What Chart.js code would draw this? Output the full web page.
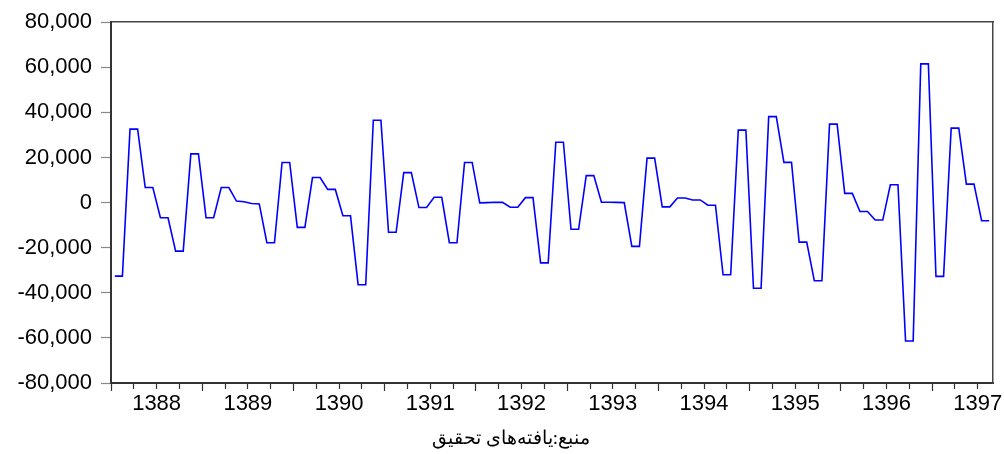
<!DOCTYPE html>
<html>
<head>
<meta charset="utf-8">
<script src="https://cdn.jsdelivr.net/npm/chart.js@4/dist/chart.umd.min.js"></script>
<style>
  html, body { margin: 0; padding: 0; background: #ffffff; }
  #c { display: block; }
</style>
</head>
<body>
<canvas id="c" width="1004" height="454"></canvas>
<script>
// Years shown on the x axis (monthly series, 1388M01 .. 1397M08)
const years = [1388, 1389, 1390, 1391, 1392, 1393, 1394, 1395, 1396, 1397];
const monthsPerYear = 12;

// Monthly values
const values = [
  -32600, -32600, 32600, 32600, 6700, 6700, -6700, -6700, -21500, -21500, 21600, 21600,
  -6700, -6700, 6700, 6700, 700, 400, -400, -600, -17800, -17800, 17800, 17800,
  -11000, -11000, 11100, 11100, 5850, 5850, -5850, -5850, -36400, -36400, 36500, 36500,
  -13150, -13150, 13300, 13300, -2200, -2200, 2340, 2340, -17800, -17800, 17800, 17800,
  -100, 0, 150, 100, -2050, -2050, 2200, 2200, -26750, -26750, 26750, 26750,
  -11840, -11840, 11980, 11980, 150, 150, 100, 0, -19430, -19430, 19730, 19730,
  -1900, -1900, 2050, 2050, 1170, 1170, -1170, -1170, -32000, -32000, 32150, 32150,
  -38000, -38000, 38140, 38140, 17840, 17840, -17540, -17540, -34630, -34630, 34780, 34780,
  4090, 4090, -3950, -3950, -7740, -7740, 7890, 7890, -61380, -61380, 61520, 61520,
  -32730, -32730, 33020, 33020, 8180, 8180, -8030, -8030
];

// Y axis tick values
const yTicks = [-80000, -60000, -40000, -20000, 0, 20000, 40000, 60000, 80000];

const caption = 'منبع:یافته‌های تحقیق';

const points = values.map((v, i) => ({ x: i, y: v }));
const n = values.length;

// quarter boundaries (tick marks) in index units
const quarterTicks = [];
for (let v = -0.5; v < n - 0.5; v += 3) quarterTicks.push(v);

function yearLabelFor(v) {
  const k = (v - 5.5) / monthsPerYear;
  if (Math.abs(k - Math.round(k)) < 1e-6) {
    const idx = Math.round(k);
    if (idx >= 0 && idx < years.length) return String(years[idx]);
  }
  return '';
}
function isYearBoundary(v) {
  const k = (v + 0.5) / monthsPerYear;
  return Math.abs(k - Math.round(k)) < 1e-6;
}

const labelFont = { family: 'Arial, "Liberation Sans", sans-serif', size: 22 };

const captionPlugin = {
  id: 'caption',
  afterDraw(chart) {
    const ctx = chart.ctx;
    ctx.save();
    ctx.font = '19px "Times New Roman", "Liberation Serif", serif';
    ctx.fillStyle = '#000000';
    ctx.textAlign = 'center';
    ctx.textBaseline = 'middle';
    ctx.fillText(caption, 511, 439);
    ctx.restore();
  }
};

new Chart(document.getElementById('c'), {
  type: 'line',
  data: {
    datasets: [{
      data: points,
      borderColor: '#0000ff',
      borderWidth: 1.6,
      pointRadius: 0,
      pointHoverRadius: 0,
      tension: 0,
      fill: false
    }]
  },
  plugins: [captionPlugin],
  options: {
    responsive: false,
    animation: false,
    devicePixelRatio: 1,
    layout: { padding: { left: 0, right: 11, top: 16, bottom: 26 } },
    plugins: {
      legend: { display: false },
      tooltip: { enabled: false },
      title: { display: false }
    },
    scales: {
      x: {
        type: 'linear',
        position: 'bottom',
        min: -0.5,
        max: n - 0.5,
        afterBuildTicks: (axis) => { axis.ticks = quarterTicks.map(v => ({ value: v })); },
        afterFit: (axis) => { axis.height = 45; },
        grid: {
          drawOnChartArea: false,
          drawTicks: true,
          tickLength: 8,
          tickColor: '#333333',
          tickWidth: 1.2,
          tickBorderDash: (ctx) => (ctx.tick && isYearBoundary(ctx.tick.value)) ? [] : [5, 40]
        },
        border: { display: true, color: '#333333', width: 2 },
        ticks: {
          autoSkip: false,
          maxRotation: 0,
          minRotation: 0,
          padding: 0,
          color: '#000000',
          font: labelFont,
          callback: (v) => yearLabelFor(v)
        }
      },
      xTop: {
        type: 'linear',
        position: 'top',
        display: true,
        afterFit: (axis) => { axis.height = 0; },
        grid: { display: false, drawTicks: false },
        ticks: { display: false },
        border: { display: true, color: '#444444', width: 1.5 }
      },
      y: {
        type: 'linear',
        position: 'left',
        min: -80000,
        max: 80000,
        afterBuildTicks: (axis) => { axis.ticks = yTicks.map(v => ({ value: v })); },
        afterFit: (axis) => { axis.width = 111; },
        grid: {
          drawOnChartArea: false,
          drawTicks: true,
          tickLength: 10,
          tickColor: '#888888',
          tickWidth: 1.2
        },
        border: { display: true, color: '#333333', width: 2 },
        ticks: {
          autoSkip: false,
          padding: 9,
          color: '#000000',
          font: labelFont,
          callback: (v) => Number(v).toLocaleString('en-US')
        }
      },
      yRight: {
        type: 'linear',
        position: 'right',
        display: true,
        afterFit: (axis) => { axis.width = 0; },
        grid: { display: false, drawTicks: false },
        ticks: { display: false },
        border: { display: true, color: '#444444', width: 1.5 }
      }
    }
  }
});
</script>
</body>
</html>
